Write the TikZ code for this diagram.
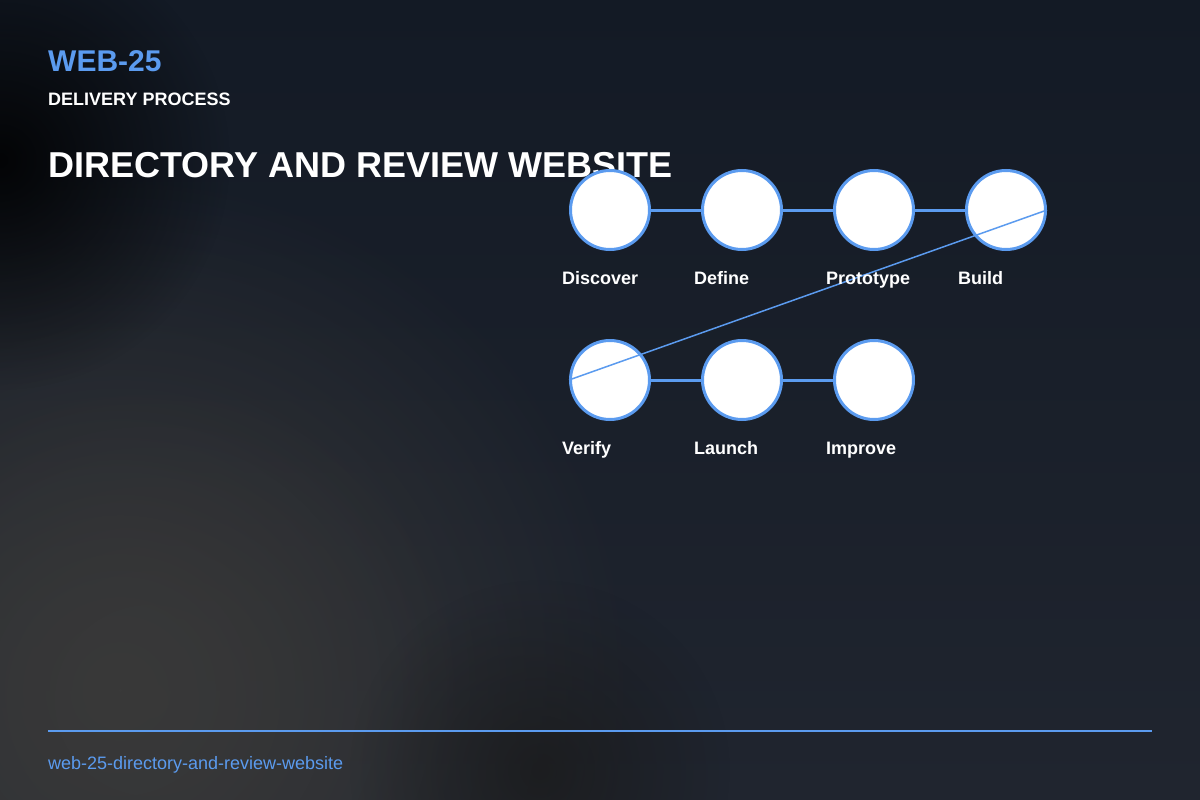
\documentclass[tikz,border=0pt]{standalone}
\usepackage{fontspec}
\setmainfont{Liberation Sans}
\usetikzlibrary{fadings}

\definecolor{bgtop}{HTML}{131A25}
\definecolor{bgbottom}{HTML}{20252F}
\definecolor{accent}{HTML}{5B9BEF}
\definecolor{smoke}{HTML}{393939}

\tikzfading[name=blobfade,inner color=transparent!0,outer color=transparent!100]

\tikzset{
  stepdot/.style={circle,draw=accent,line width=3pt,fill=white,minimum size=79pt,inner sep=0pt},
  steptext/.style={anchor=base west,inner sep=0pt,text=white,font=\fontsize{18}{20}\selectfont\bfseries},
  flow/.style={accent,line width=3pt},
  jump/.style={accent,line width=1.5pt}
}

\begin{document}
\begin{tikzpicture}[x=1pt,y=-1pt]
\useasboundingbox (0,0) rectangle (1200,800);
% background
\begin{scope}
\clip (0,0) rectangle (1200,800);
\shade[top color=bgtop,bottom color=bgbottom] (0,0) rectangle (1200,800);
\fill[smoke,path fading=blobfade] (120,690) circle (520);
\fill[smoke,path fading=blobfade,opacity=0.7] (150,700) circle (330);
\fill[black,path fading=blobfade,opacity=0.85] (0,160) circle (230);
\fill[black!90,path fading=blobfade,opacity=0.7] (540,770) circle (190);
\end{scope}

% header
\node[anchor=base west,inner sep=0pt,text=accent,font=\fontsize{30}{32}\selectfont\bfseries] (code) at (48,72) {WEB-25};
\node[anchor=base west,inner sep=0pt,text=white,font=\fontsize{18}{20}\selectfont\bfseries] (kind) at (48,105) {DELIVERY PROCESS};
\node[anchor=base west,inner sep=0pt,text=white,font=\fontsize{36}{40}\selectfont\bfseries] (title) at (48,177) {DIRECTORY AND REVIEW WEBSITE};

% steps
\node[stepdot] (discover) at (610,210) {};
\node[stepdot] (define) at (742,210) {};
\node[stepdot] (prototype) at (874,210) {};
\node[stepdot] (build) at (1006,210) {};
\node[stepdot] (verify) at (610,380) {};
\node[stepdot] (launch) at (742,380) {};
\node[stepdot] (improve) at (874,380) {};

\draw[flow] (discover) -- (define);
\draw[flow] (define) -- (prototype);
\draw[flow] (prototype) -- (build);
\draw[flow] (verify) -- (launch);
\draw[flow] (launch) -- (improve);
\draw[jump] (build.east) -- (verify.west);

\node[steptext] (discoverlabel) at (562,284) {Discover};
\node[steptext] (definelabel) at (694,284) {Define};
\node[steptext] (prototypelabel) at (826,284) {Prototype};
\node[steptext] (buildlabel) at (958,284) {Build};
\node[steptext] (verifylabel) at (562,454) {Verify};
\node[steptext] (launchlabel) at (694,454) {Launch};
\node[steptext] (improvelabel) at (826,454) {Improve};

% footer
\coordinate (rulestart) at (48,731);
\coordinate (ruleend) at (1152,731);
\draw[accent,line width=2pt] (rulestart) -- (ruleend);
\node[anchor=base west,inner sep=0pt,text=accent,font=\fontsize{18}{20}\selectfont] (slug) at (48,769) {web-25-directory-and-review-website};
\end{tikzpicture}
\end{document}
